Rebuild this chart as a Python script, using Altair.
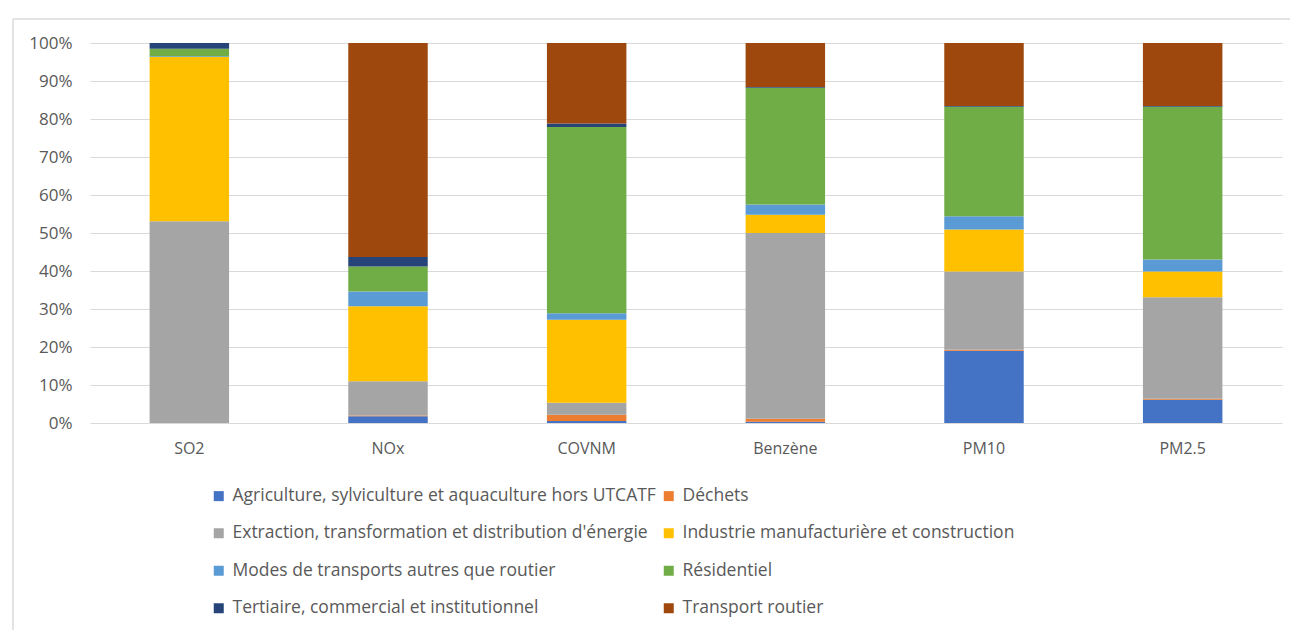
import altair as alt
import pandas as pd

# Polluants (axe des abscisses)
polluants = ["SO2", "NOx", "COVNM", "Benzène", "PM10", "PM2.5"]

# Secteurs émetteurs, du bas vers le haut de la pile
secteurs = [
    "Agriculture, sylviculture et aquaculture hors UTCATF",
    "Déchets",
    "Extraction, transformation et distribution d'énergie",
    "Industrie manufacturière et construction",
    "Modes de transports autres que routier",
    "Résidentiel",
    "Tertiaire, commercial et institutionnel",
    "Transport routier",
]

couleurs = ["#4472C4", "#ED7D31", "#A5A5A5", "#FFC000",
            "#5B9BD5", "#70AD47", "#264478", "#9E480E"]

# Part de chaque secteur (%) pour chaque polluant, dans l'ordre des secteurs
part_so2 = [0.0, 0.0, 53.1, 43.2, 0.2, 2.0, 1.5, 0.0]
part_nox = [1.8, 0.2, 9.0, 19.7, 3.9, 6.6, 2.5, 56.3]
part_covnm = [0.5, 1.7, 3.1, 21.9, 1.7, 49.0, 0.9, 21.2]
part_benzene = [0.3, 0.8, 48.9, 4.8, 2.7, 30.7, 0.2, 11.6]
part_pm10 = [19.0, 0.3, 20.6, 11.0, 3.5, 28.8, 0.2, 16.6]
part_pm25 = [6.1, 0.3, 26.7, 6.8, 3.1, 40.2, 0.2, 16.6]

parts = [part_so2, part_nox, part_covnm, part_benzene, part_pm10, part_pm25]

rows = []
for pol, vals in zip(polluants, parts):
    for i, (sect, v) in enumerate(zip(secteurs, vals)):
        rows.append({"polluant": pol, "secteur": sect, "ordre": i, "part": v / 100})
df = pd.DataFrame(rows)

# The legend grid fills column by column: list the even-indexed sectors
# first so that the two columns read left-to-right in sector order.
ordre_legende = secteurs[0::2] + secteurs[1::2]
couleurs_legende = couleurs[0::2] + couleurs[1::2]

FONT = "Open Sans"
GRIS = "#595959"

barres = alt.Chart(df).mark_bar().encode(
    x=alt.X("polluant:N", sort=polluants, title=None,
            scale=alt.Scale(paddingInner=0.6, paddingOuter=0.3),
            axis=alt.Axis(labelAngle=0, labelFontSize=16, labelColor=GRIS,
                          labelPadding=17, ticks=False, domain=False, grid=False)),
    y=alt.Y("part:Q", stack="zero", title=None,
            scale=alt.Scale(domain=[0, 1], nice=False),
            axis=alt.Axis(format=".0%", values=[i / 10 for i in range(11)],
                          labelFontSize=17, labelColor=GRIS, labelPadding=18,
                          ticks=False, domain=False, grid=True,
                          gridColor="#D9D9D9", gridWidth=1)),
    color=alt.Color("secteur:N", title=None,
                    scale=alt.Scale(domain=ordre_legende, range=couleurs_legende),
                    legend=alt.Legend(orient="none", legendX=120, legendY=444,
                                      columns=2, symbolType="square",
                                      symbolSize=100, symbolStrokeWidth=0,
                                      labelFontSize=17.5, labelColor=GRIS,
                                      labelLimit=700, rowPadding=18.5,
                                      columnPadding=4, labelOffset=5)),
    order=alt.Order("ordre:Q", sort="ascending"),
)

# Cadre de la zone du graphique
cadre_gauche = alt.Chart(df).mark_rule(color="#E3E3E3", strokeWidth=1).encode(
    x=alt.value(-77), y=alt.value(-24), y2=alt.value(587))
cadre_haut = alt.Chart(df).mark_rule(color="#E3E3E3", strokeWidth=1).encode(
    x=alt.value(-77), x2=alt.value(1200), y=alt.value(-24))

chart = alt.layer(cadre_gauche, cadre_haut, barres).properties(
    width=1192, height=380,
    autosize=alt.AutoSizeParams(type="none"),
    padding={"left": 90, "top": 43, "right": 8, "bottom": 207},
).configure(font=FONT).configure_view(stroke=None)

chart.save("out.html", embed_options={"renderer": "svg", "actions": False})
